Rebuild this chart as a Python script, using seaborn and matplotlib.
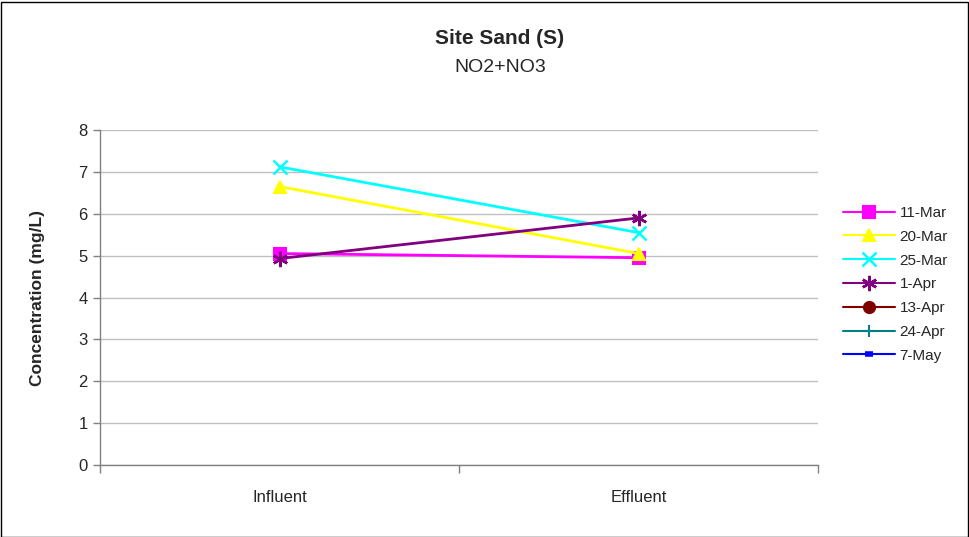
import numpy as np
import pandas as pd
import seaborn as sns
import matplotlib.pyplot as plt
from matplotlib.lines import Line2D

# data
locations = ["Influent", "Effluent"]
dates = ["11-Mar", "20-Mar", "25-Mar", "1-Apr", "13-Apr", "24-Apr", "7-May"]
mar11 = [5.05, 4.95]
mar20 = [6.65, 5.05]
mar25 = [7.12, 5.55]
apr1 = [4.93, 5.90]
apr13 = [np.nan, np.nan]
apr24 = [np.nan, np.nan]
may7 = [np.nan, np.nan]

colors = ["#ff00ff", "#ffff00", "#00ffff", "#800080", "#800000", "#008080", "#0000ff"]
markers = ["s", "^", "x", (6, 2, 0), "o", "+", "_"]

series = [mar11, mar20, mar25, apr1, apr13, apr24, may7]
df = pd.DataFrame({
    "pos": np.tile([0, 1], len(dates)),
    "loc": locations * len(dates),
    "date": np.repeat(dates, 2),
    "conc": np.concatenate(series),
})

sns.set_style("white")
plt.rcParams["font.family"] = ["Liberation Sans", "DejaVu Sans"]


def marker_style(m):
    if m == "x":
        return 10, 1.8
    if m == (6, 2, 0):
        return 11, 1.8
    return 8, 1.5


fig = plt.figure(figsize=(9.69, 5.37), dpi=100)
ax = fig.add_axes([100 / 969, 72 / 537, 718 / 969, 335 / 537])

for d, c, m in zip(dates, colors, markers):
    sub = df[df["date"] == d].dropna()
    if len(sub) == 0:
        continue
    ms, mew = marker_style(m)
    sns.lineplot(data=sub, x="pos", y="conc", color=c, marker=m, markersize=ms,
                 markeredgecolor=c, markerfacecolor=c, markeredgewidth=mew,
                 linewidth=2, ax=ax, legend=False)

ax.set_xlim(-0.5, 1.5)
ax.set_ylim(0, 8)
ax.set_yticks(range(0, 9))
ax.set_xticks([-0.5, 0.5, 1.5])
ax.set_xticklabels([])
ax.set_xticks([0, 1], minor=True)
ax.set_xticklabels(locations, minor=True)
ax.tick_params(axis="x", which="major", direction="out", length=6, color="#808080", width=1)
ax.tick_params(axis="x", which="minor", length=0, labelsize=12, pad=18)
ax.tick_params(axis="y", direction="out", length=5, color="#808080", width=1, labelsize=12, pad=4)
ax.tick_params(axis="both", bottom=True, left=True)
ax.yaxis.grid(True, color="#c0c0c0", linewidth=1)
ax.set_axisbelow(True)
for s in ["top", "right"]:
    ax.spines[s].set_visible(False)
for s in ["left", "bottom"]:
    ax.spines[s].set_color("#808080")
    ax.spines[s].set_linewidth(1)
ax.set_xlabel("")
ax.set_ylabel("Concentration (mg/L)", fontsize=12.5, fontweight="bold", labelpad=24)

fig.text(500 / 969, 1 - 38 / 537, "Site Sand (S)", ha="center", va="center",
         fontsize=15, fontweight="bold")
fig.text(500 / 969, 1 - 67 / 537, "NO2+NO3", ha="center", va="center", fontsize=14)

handles = []
for d, c, m in zip(dates, colors, markers):
    ms, mew = marker_style(m)
    if m == "_":
        ms, mew = 6, 4
    handles.append(Line2D([0], [0], color=c, marker=m, markersize=ms, linewidth=1.5,
                          markeredgecolor=c, markerfacecolor=c, markeredgewidth=mew, label=d))
fig.legend(handles=handles, loc="upper left", bbox_to_anchor=(843 / 969, 1 - 206 / 537),
           frameon=False, fontsize=11, handlelength=3.4, handletextpad=0.3,
           labelspacing=0.64, borderaxespad=0, borderpad=0)

fig.patches.append(plt.Rectangle((0.5 / 969, 0.5 / 537), 1 - 2 / 969, 1 - 2 / 537,
                                 transform=fig.transFigure, fill=False,
                                 edgecolor="black", linewidth=1))

plt.savefig("out.png", dpi=100)
